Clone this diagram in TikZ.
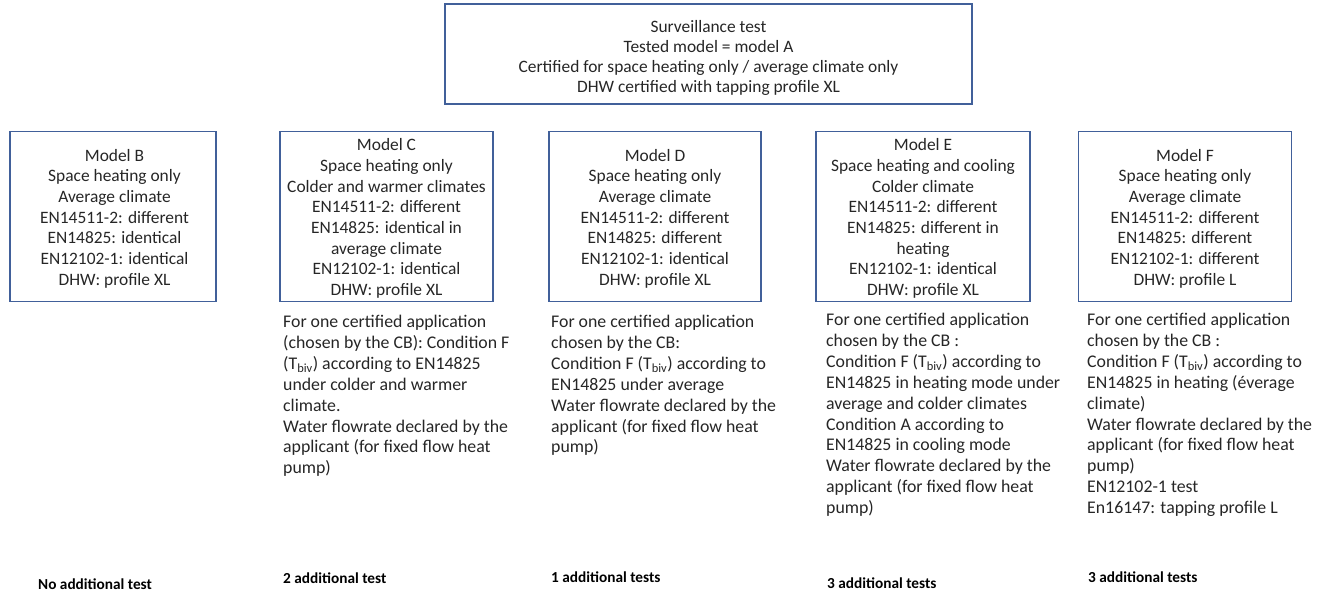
\documentclass[tikz,border=0pt]{standalone}
\usepackage{fontspec}
\setmainfont{Carlito}
\definecolor{boxblue}{HTML}{41609A}
\definecolor{txt}{HTML}{262626}
\tikzset{
  x=1pt, y=-1pt,
  mframe/.style={draw=boxblue, line width=1.6pt, inner sep=0pt},
  mtext/.style={align=center, inner sep=0pt, text=txt,
    font=\fontsize{17.4}{20.7}\selectfont},
  desc/.style={anchor=north west, align=left, inner sep=0pt, text=txt,
    font=\fontsize{17.8}{20.9}\selectfont},
  res/.style={anchor=west, inner sep=0pt, text=black, font=\fontsize{15.3}{17}\selectfont\bfseries}
}
\begin{document}
\begin{tikzpicture}
\useasboundingbox (0,0) rectangle (1324,591);
\node[mframe, minimum width=527, minimum height=100] (top) at (708.5,54) {};
\node[mtext, font=\fontsize{17.4}{19.8}\selectfont] (toptxt) at ([yshift=-4pt]top.center) {Surveillance test\\Tested model = model A\\Certified for space heating only / average climate only\\DHW certified with tapping profile XL};

\node[mframe, minimum width=206, minimum height=170] (mb) at (113,216.5) {};
\node[mtext] (mbt) at ([xshift=1.5pt,yshift=-2pt]mb.center) {Model B\\Space heating only\\Average climate\\EN14511-2: different\\EN14825: identical\\EN12102-1: identical\\DHW: profile XL};
\node[mframe, minimum width=213, minimum height=170] (mc) at (386.5,216.5) {};
\node[mtext] (mct) at ([yshift=-2pt]mc.center) {Model C\\Space heating only\\Colder and warmer climates\\EN14511-2: different\\EN14825: identical in\\average climate\\EN12102-1: identical\\DHW: profile XL};
\node[mframe, minimum width=212, minimum height=170] (md) at (655,216.5) {};
\node[mtext] (mdt) at ([yshift=-2pt]md.center) {Model D\\Space heating only\\Average climate\\EN14511-2: different\\EN14825: different\\EN12102-1: identical\\DHW: profile XL};
\node[mframe, minimum width=214, minimum height=170] (me) at (923,216.5) {};
\node[mtext] (met) at ([yshift=-2pt]me.center) {Model E\\Space heating and cooling\\Colder climate\\EN14511-2: different\\EN14825: different in\\heating\\EN12102-1: identical\\DHW: profile XL};
\node[mframe, minimum width=213, minimum height=170] (mf) at (1185,216.5) {};
\node[mtext] (mft) at ([yshift=-2pt]mf.center) {Model F\\Space heating only\\Average climate\\EN14511-2: different\\EN14825: different\\EN12102-1: different\\DHW: profile L};

\node[desc] (dc) at (283,315) {For one certified application\\(chosen by the CB): Condition F\\(T\textsubscript{biv}) according to EN14825\\under colder and warmer\\climate.\\Water flowrate declared by the\\applicant (for fixed flow heat\\pump)};
\node[desc] (dd) at (551,315) {For one certified application\\chosen by the CB:\\Condition F (T\textsubscript{biv}) according to\\EN14825 under average\\Water flowrate declared by the\\applicant (for fixed flow heat\\pump)};
\node[desc] (de) at (826,313) {For one certified application\\chosen by the CB :\\Condition F (T\textsubscript{biv}) according to\\EN14825 in heating mode under\\average and colder climates\\Condition A according to\\EN14825 in cooling mode\\Water flowrate declared by the\\applicant (for fixed flow heat\\pump)};
\node[desc] (df) at (1087,313) {For one certified application\\chosen by the CB :\\Condition F (T\textsubscript{biv}) according to\\EN14825 in heating (éverage\\climate)\\Water flowrate declared by the\\applicant (for fixed flow heat\\pump)\\EN12102-1 test\\En16147: tapping profile L};

\node[res] (rb) at (38,584) {No additional test};
\node[res] (rc) at (283,578) {2 additional test};
\node[res] (rd) at (551,577) {1 additional tests};
\node[res] (re) at (827,583) {3 additional tests};
\node[res] (rf) at (1088,577) {3 additional tests};
\end{tikzpicture}
\end{document}
